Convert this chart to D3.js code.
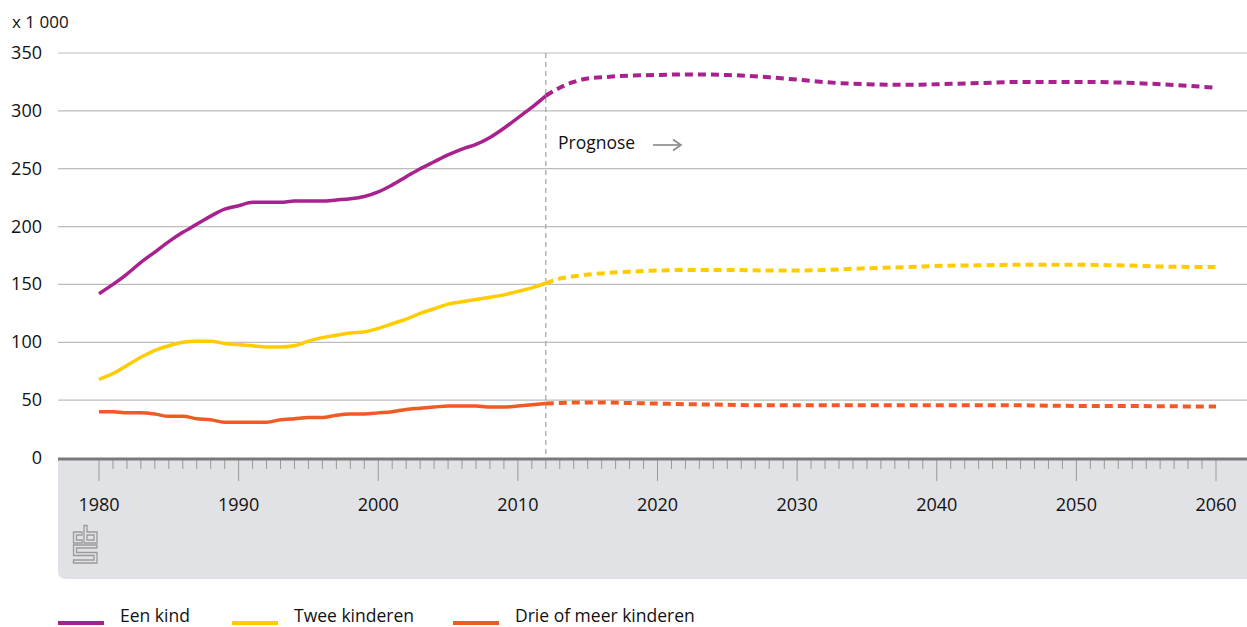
<!DOCTYPE html>
<html><head><meta charset="utf-8">
<script src="https://cdn.jsdelivr.net/npm/d3@7"></script>
<style>body{margin:0;background:#fff}svg{display:block;font-family:"Open Sans","Noto Sans",sans-serif}</style>
</head><body><svg id="c" width="1247" height="627"></svg>
<script>
const histYears = d3.range(1980, 2013);
const eenKindHist = [142,150,159,169,178,187,195,202,209,215,218,221,221,221,222,222,222,223,224,226,230,236,243,250,256,262,267,271,277,285,294,303,313];
const tweeHist = [68,73,80,87,93,97,100,101,101,99,98,97,96,96,97,101,104,106,108,109,112,116,120,125,129,133,135,137,139,141,144,147,151];
const drieHist = [40,40,39,39,38,36,36,34,33,31,31,31,31,33,34,35,35,37,38,38,39,40,42,43,44,45,45,45,44,44,45,46,47];
const progYears = [2012,2013,2014,2015,2016,2018,2020,2022,2025,2028,2030,2033,2035,2038,2040,2043,2046,2050,2053,2056,2060];
const eenKindProg = [313,320,325,328,329,330.5,331,331.5,331,329,327,324,323,322.5,323,324,325,325,324.5,323,320];
const tweeProg = [151,155,157,158.5,159.5,161,162,162.5,162.5,162,162,163,164,165,166,166.5,167,167,166.5,165.5,165];
const drieProg = [47,47.5,48,48,48,47.5,47,46.5,46,45.5,45.5,45.5,45.5,45.5,45.5,45.5,45.5,45,45,44.7,44.5];
const seriesNames = ["Een kind","Twee kinderen","Drie of meer kinderen"];
const colors = ["#a8218e","#ffcc00","#f15a24"];
const yTicks = [0,50,100,150,200,250,300,350];
const xTicks = [1980,1990,2000,2010,2020,2030,2040,2050,2060];

const svg = d3.select("#c");
const x = d3.scaleLinear().domain([1980,2060]).range([99,1216]);
const y = d3.scaleLinear().domain([0,350]).range([458,53]);
const L = 58, R = 1247;

// grey panel
svg.append("path").attr("fill","#e1e2e5")
  .attr("d",`M${L},458 H${R} V579 H${L+8} Q${L},579 ${L},571 Z`);

// gridlines
svg.append("g").selectAll("line").data(yTicks.filter(d=>d>0)).join("line")
  .attr("x1",L).attr("x2",R).attr("y1",d=>y(d)).attr("y2",d=>y(d))
  .attr("stroke","#bdbdbd").attr("stroke-width",1.2);
svg.append("g").selectAll("text").data(yTicks).join("text")
  .attr("x",42).attr("y",d=>y(d)+6).attr("text-anchor","end")
  .attr("font-size",18).attr("fill","#111").text(d=>d);
svg.append("text").attr("x",12).attr("y",28).attr("font-size",17).attr("fill","#111").text("x 1 000");

// x axis ticks
const yrs = d3.range(1980,2061);
svg.append("g").selectAll("line").data(yrs).join("line")
  .attr("x1",d=>x(d)).attr("x2",d=>x(d)).attr("y1",459)
  .attr("y2",d=>d%10===0?481:469).attr("stroke","#999").attr("stroke-width",1);
svg.append("line").attr("x1",L).attr("x2",R).attr("y1",459).attr("y2",459)
  .attr("stroke","#7a7a7a").attr("stroke-width",3);
svg.append("g").selectAll("text").data(xTicks).join("text")
  .attr("x",d=>x(d)).attr("y",511).attr("text-anchor","middle")
  .attr("font-size",18).attr("fill","#111").text(d=>d);

// logo
const lg = svg.append("g").attr("transform","translate(73,525)").attr("fill","none").attr("stroke","#9a9a9a").attr("stroke-width",1.3);
lg.append("path").attr("d","M0.5,7 H9 V10 H3.5 V15 H9 V18 H0.5 Z");
lg.append("path").attr("d","M11,0.5 H14 V7 H24 V18 H11 Z M14,10 V15 H21 V10 Z");
lg.append("path").attr("d","M0.5,20 H24 V23 H3.5 V27.5 H24 V38 H0.5 V35 H21 V30.5 H0.5 Z");

// prognose divider
svg.append("line").attr("x1",x(2012)).attr("x2",x(2012)).attr("y1",53).attr("y2",458)
  .attr("stroke","#a8a8a8").attr("stroke-width",1.3).attr("stroke-dasharray","5,4");
svg.append("text").attr("x",558).attr("y",149).attr("font-size",17.5).attr("fill","#111").text("Prognose");
svg.append("line").attr("x1",653).attr("x2",680).attr("y1",145).attr("y2",145).attr("stroke","#888").attr("stroke-width",1.6);
svg.append("path").attr("d","M673,139.5 L681,145 L673,150.5").attr("fill","none").attr("stroke","#888").attr("stroke-width",1.6);

const line = d3.line().x(d=>x(d[0])).y(d=>y(d[1])).curve(d3.curveMonotoneX);
const hist = [eenKindHist,tweeHist,drieHist];
const prog = [eenKindProg,tweeProg,drieProg];
hist.forEach((h,i)=>{
  svg.append("path").attr("d",line(histYears.map((yr,j)=>[yr,h[j]])))
    .attr("fill","none").attr("stroke",colors[i]).attr("stroke-width",3.5);
  svg.append("path").attr("d",line(progYears.map((yr,j)=>[yr,prog[i][j]])))
    .attr("fill","none").attr("stroke",colors[i]).attr("stroke-width",4).attr("stroke-dasharray","8,5");
});

// legend
const legX = [58,232,453];
seriesNames.forEach((n,i)=>{
  svg.append("line").attr("x1",legX[i]).attr("x2",legX[i]+46).attr("y1",623).attr("y2",623)
    .attr("stroke",colors[i]).attr("stroke-width",4);
  svg.append("text").attr("x",legX[i]+62).attr("y",622).attr("font-size",17.5).attr("fill","#111").text(n);
});
</script></body></html>
